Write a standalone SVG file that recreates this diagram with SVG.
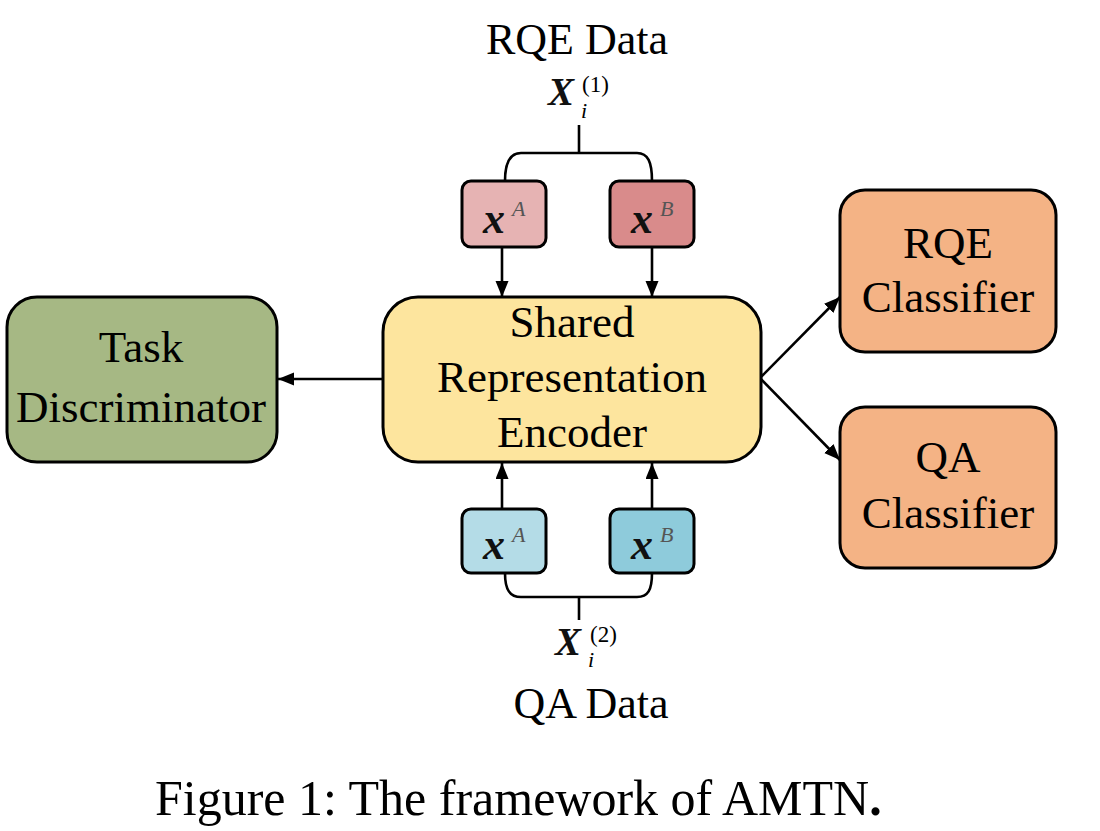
<svg xmlns="http://www.w3.org/2000/svg" width="1100" height="831" viewBox="0 0 1100 831">
<defs>
<style>
.box{stroke:#000;stroke-width:3}
.t{font-family:"Liberation Serif","Times New Roman",serif;fill:#000}
.lbl{font-size:45px;text-anchor:middle}
.conn{fill:none;stroke:#000;stroke-width:2.6}
.mx{font-family:"Liberation Serif","Times New Roman",serif;font-style:italic;font-weight:bold;fill:#111}
.sup{font-family:"Liberation Serif","Times New Roman",serif;font-style:italic;fill:#555}
</style>
<marker id="ah" markerUnits="userSpaceOnUse" markerWidth="18" markerHeight="14" refX="16" refY="6.5" orient="auto">
<path d="M0,0 L16,6.5 L0,13 z" fill="#000"/>
</marker>
</defs>
<rect width="1100" height="831" fill="#fff"/>

<g id="connectors">
<path class="conn" d="M579,125 L579,153"/>
<path class="conn" d="M505,181 C505,162 510,153 521,153 L637,153 C648,153 652,162 652,181"/>
<path class="conn" d="M579,620 L579,597"/>
<path class="conn" d="M505,573 C505,590 510,597 521,597 L637,597 C648,597 652,590 652,573"/>
<path class="conn" d="M502,247 L502,297" marker-end="url(#ah)"/>
<path class="conn" d="M652,247 L652,297" marker-end="url(#ah)"/>
<path class="conn" d="M502,509 L502,463" marker-end="url(#ah)"/>
<path class="conn" d="M652,509 L652,463" marker-end="url(#ah)"/>
<path class="conn" d="M383,379 L278,379" marker-end="url(#ah)"/>
<path class="conn" d="M760,378 L840,297" marker-end="url(#ah)"/>
<path class="conn" d="M760,378 L840,460" marker-end="url(#ah)"/>
</g>

<g id="rqe-data">
<text class="t" x="577" y="54" font-size="44" text-anchor="middle">RQE Data</text>
<text class="mx" x="548" y="105" font-size="39">X</text>
<text class="t" x="582" y="92" font-size="23">(1)</text>
<text class="t" x="581" y="118" font-size="22" font-style="italic">i</text>
</g>

<g id="qa-data">
<text class="t" x="591" y="718" font-size="44" text-anchor="middle">QA Data</text>
<text class="mx" x="555" y="655" font-size="39">X</text>
<text class="t" x="590" y="642" font-size="23">(2)</text>
<text class="t" x="588" y="667" font-size="22" font-style="italic">i</text>
</g>

<g id="rqe-xa">
<rect class="box" x="462" y="181" width="84" height="66" rx="9" fill="#e6b3b3"/>
<text class="mx" x="483" y="233" font-size="44">x</text>
<text class="sup" x="512" y="216" font-size="22">A</text>
</g>
<g id="rqe-xb">
<rect class="box" x="610" y="181" width="84" height="66" rx="9" fill="#d98b8b"/>
<text class="mx" x="631" y="233" font-size="44">x</text>
<text class="sup" x="660" y="216" font-size="22">B</text>
</g>

<g id="qa-xa">
<rect class="box" x="462" y="509" width="84" height="64" rx="9" fill="#b4dce7"/>
<text class="mx" x="483" y="559" font-size="44">x</text>
<text class="sup" x="512" y="542" font-size="22">A</text>
</g>
<g id="qa-xb">
<rect class="box" x="610" y="509" width="84" height="64" rx="9" fill="#8ecbdb"/>
<text class="mx" x="631" y="559" font-size="44">x</text>
<text class="sup" x="660" y="542" font-size="22">B</text>
</g>

<g id="encoder">
<rect class="box" x="383" y="297" width="378" height="165" rx="35" fill="#fde59e"/>
<text class="t lbl" x="572" y="337">Shared</text>
<text class="t lbl" x="572" y="392">Representation</text>
<text class="t lbl" x="572" y="447">Encoder</text>
</g>

<g id="task-discriminator">
<rect class="box" x="7" y="297" width="270" height="165" rx="30" fill="#a6b884"/>
<text class="t lbl" x="141" y="362">Task</text>
<text class="t lbl" x="141" y="422">Discriminator</text>
</g>

<g id="rqe-classifier">
<rect class="box" x="840" y="190" width="216" height="162" rx="25" fill="#f4b385"/>
<text class="t lbl" x="948" y="258">RQE</text>
<text class="t lbl" x="948" y="312">Classifier</text>
</g>

<g id="qa-classifier">
<rect class="box" x="840" y="407" width="216" height="161" rx="25" fill="#f4b385"/>
<text class="t lbl" x="948" y="472">QA</text>
<text class="t lbl" x="948" y="528">Classifier</text>
</g>

<g id="caption">
<text class="t" x="155" y="815" font-size="50">Figure 1: The framework of AMTN<tspan font-weight="bold">.</tspan></text>
</g>
</svg>
